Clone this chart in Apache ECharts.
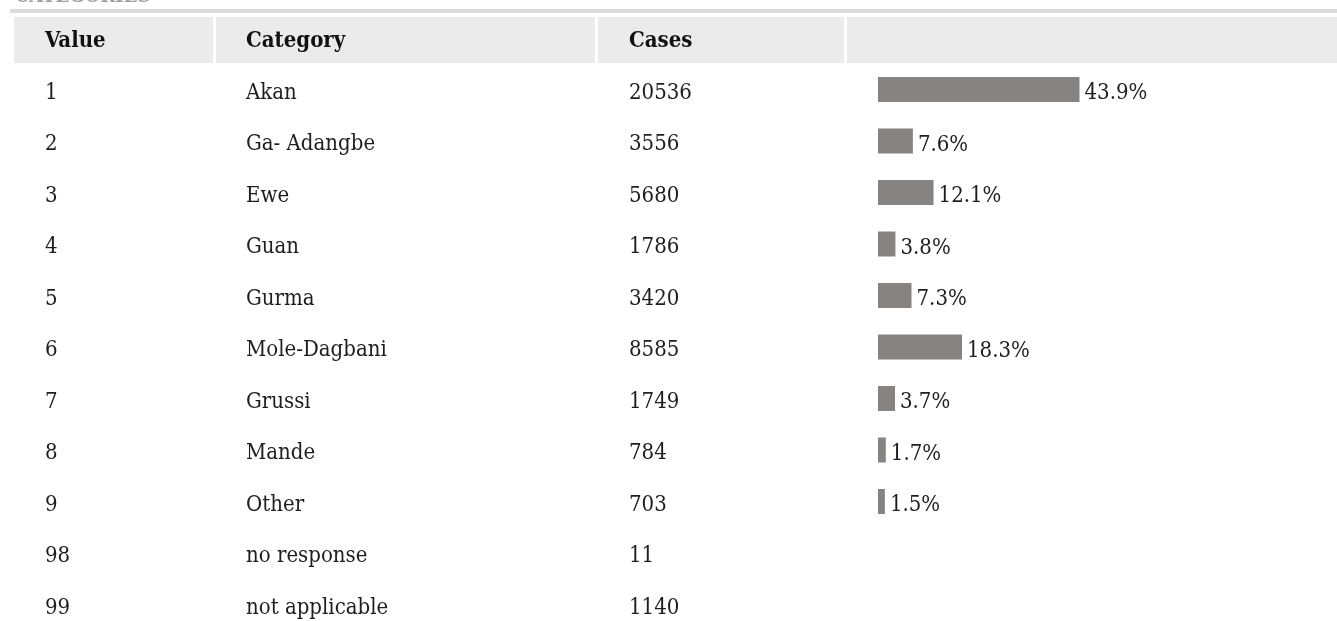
<!DOCTYPE html>
<html>
<head>
<meta charset="utf-8">
<script src="https://cdn.jsdelivr.net/npm/echarts@6/dist/echarts.min.js"></script>
<style>
  html, body { margin: 0; padding: 0; background: #fff; }
  #chart { width: 1337px; height: 621px; }
</style>
</head>
<body>
<div id="chart"></div>
<script>
// category table: value code, label, case count, share of valid cases
const codes = ['1', '2', '3', '4', '5', '6', '7', '8', '9', '98', '99'];
const categories = ['Akan', 'Ga- Adangbe', 'Ewe', 'Guan', 'Gurma', 'Mole-Dagbani',
  'Grussi', 'Mande', 'Other', 'no response', 'not applicable'];
const cases = [20536, 3556, 5680, 1786, 3420, 8585, 1749, 784, 703, 11, 1140];
const percents = [43.9, 7.6, 12.1, 3.8, 7.3, 18.3, 3.7, 1.7, 1.5, null, null];
const headers = ['Value', 'Category', 'Cases'];
const title = 'CATEGORIES';

const FONT = '"DejaVu Serif Condensed", "DejaVu Serif", serif';
const FS = 22;

// column left edges (text) and header cells
const colX = [45, 246, 629];
const barLeft = 878;
const headCells = [[14, 199], [216, 379], [598, 246], [847, 490]];

const chart = echarts.init(document.getElementById('chart'), null, { renderer: 'canvas' });

// one hidden category axis per text column, pushed left with offset
// ticks sit on row centres (boundaryGap off) so rows fit the canvas
function textAxis(data, x) {
  return {
    type: 'category',
    gridIndex: 1,
    data: data,
    inverse: true,
    boundaryGap: false,
    position: 'left',
    offset: barLeft - x,
    axisLine: { show: false },
    axisTick: { show: false },
    splitLine: { show: false },
    axisLabel: {
      show: true,
      interval: 0,
      margin: 0,
      align: 'left',
      fontFamily: FONT,
      fontSize: FS,
      color: '#1e1e1e'
    }
  };
}

const graphics = [
  { type: 'rect', shape: { x: 10, y: 9, width: 1327, height: 4 }, style: { fill: '#dcdcdc' } },
  {
    type: 'text', x: 15, y: -3.5,
    style: { text: title, fontFamily: FONT, fontSize: 20, fontWeight: 'bold', fill: '#a0a0a0', verticalAlign: 'middle' }
  }
];
headCells.forEach(function (c) {
  graphics.push({ type: 'rect', shape: { x: c[0], y: 17, width: c[1], height: 46 }, style: { fill: '#ebebeb' } });
});
headers.forEach(function (h, i) {
  graphics.push({
    type: 'text', x: colX[i], y: 41,
    style: { text: h, fontFamily: FONT, fontSize: FS, fontWeight: 'bold', fill: '#111', verticalAlign: 'middle' }
  });
});

chart.setOption({
  animation: false,
  grid: [
    { left: barLeft, top: 89.5, width: 460, height: 515 },   // bars
    { left: barLeft, top: 93, width: 460, height: 515 }      // text columns
  ],
  xAxis: [
    { type: 'value', gridIndex: 0, min: 0, max: 100, show: false },
    { type: 'value', gridIndex: 1, min: 0, max: 100, show: false }
  ],
  yAxis: [
    {
      type: 'category',
      gridIndex: 0,
      data: codes,
      inverse: true,
      boundaryGap: false,
      axisLine: { show: false },
      axisTick: { show: false },
      axisLabel: { show: false },
      splitLine: { show: false }
    },
    textAxis(codes, colX[0]),
    textAxis(categories, colX[1]),
    textAxis(cases.map(String), colX[2])
  ],
  graphic: graphics,
  series: [{
    type: 'bar',
    xAxisIndex: 0,
    yAxisIndex: 0,
    data: percents,
    barWidth: 25,
    clip: false,
    itemStyle: { color: '#878381' },
    label: {
      show: true,
      position: 'right',
      distance: 5,
      offset: [0, 4],
      fontFamily: FONT,
      fontSize: FS,
      color: '#1e1e1e',
      formatter: function (p) { return p.value.toFixed(1) + '%'; }
    }
  }]
});
</script>
</body>
</html>
